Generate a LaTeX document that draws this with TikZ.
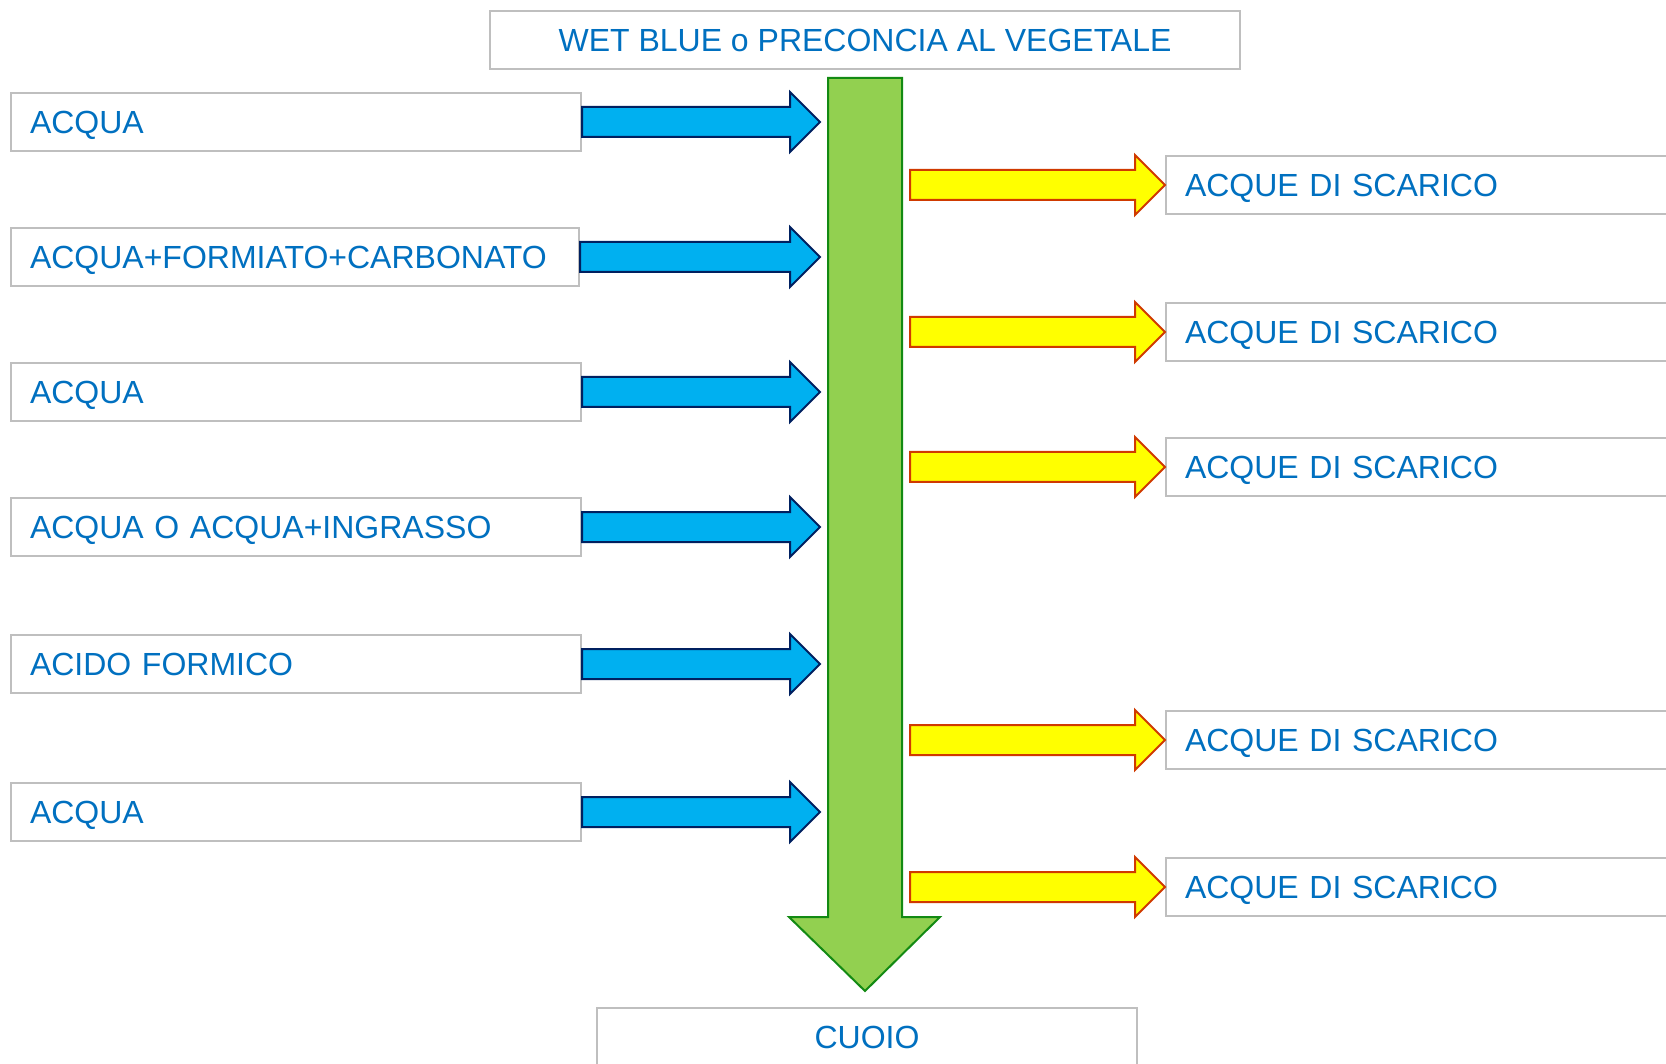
\documentclass[tikz,border=0pt]{standalone}
\usepackage{fontspec}
\setmainfont{Liberation Sans}
\usetikzlibrary{calc}
\definecolor{txtblue}{HTML}{0070C0}
\definecolor{boxgray}{HTML}{BFBFBF}
\definecolor{arrblue}{HTML}{00B0F0}
\definecolor{arrnavy}{HTML}{002060}
\definecolor{arrgreen}{HTML}{92D050}
\definecolor{arrdkgreen}{HTML}{138A13}
\definecolor{arryellow}{HTML}{FFFF00}
\definecolor{arrred}{HTML}{D03A00}
\newcommand{\blockarrow}[3]{%
  \draw[#1] let \p1=(#2), \p2=(#3) in
    (\x1,\y1+15pt) -- (\x2-30pt,\y1+15pt) -- (\x2-30pt,\y1+30pt) -- (\x2,\y1)
    -- (\x2-30pt,\y1-30pt) -- (\x2-30pt,\y1-15pt) -- (\x1,\y1-15pt) -- cycle;}
\begin{document}
\begin{tikzpicture}[x=1pt,y=-1pt,
  box/.style={draw=boxgray, line width=2pt, fill=white, minimum height=58pt,
    inner xsep=19pt, inner ysep=0pt, text=txtblue, text height=23pt, text depth=0pt,
    font=\fontsize{32}{36}\selectfont, align=left},
  lbox/.style={box, anchor=west, text width=532pt},
  rbox/.style={box, anchor=west, text width=472pt},
  cbox/.style={box, align=center},
  bluearr/.style={fill=arrblue, draw=arrnavy, line width=2pt, line join=miter},
  yelarr/.style={fill=arryellow, draw=arrred, line width=2pt, line join=miter},
  greenarr/.style={fill=arrgreen, draw=arrdkgreen, line width=2pt, line join=miter}]
\useasboundingbox (0,0) rectangle (1666,1064);
% boxes
\node[cbox, minimum width=750pt] (top) at (865,40) {WET BLUE o PRECONCIA AL VEGETALE};
\node[cbox, minimum width=540pt] (cuoio) at (867,1037) {CUOIO};
\node[lbox] (l1) at (10,122) {ACQUA};
\node[lbox, text width=530pt] (l2) at (10,257) {ACQUA+FORMIATO+CARBONATO};
\node[lbox] (l3) at (10,392) {ACQUA};
\node[lbox] (l4) at (10,527) {ACQUA O ACQUA+INGRASSO};
\node[lbox] (l5) at (10,664) {ACIDO FORMICO};
\node[lbox] (l6) at (10,812) {ACQUA};
\node[rbox] (r1) at (1165,185) {ACQUE DI SCARICO};
\node[rbox] (r2) at (1165,332) {ACQUE DI SCARICO};
\node[rbox] (r3) at (1165,467) {ACQUE DI SCARICO};
\node[rbox] (r4) at (1165,740) {ACQUE DI SCARICO};
\node[rbox] (r5) at (1165,887) {ACQUE DI SCARICO};
% main green arrow
\coordinate (gtop) at (865,78);
\coordinate (gtip) at (865,991);
\draw[greenarr] (828,78) -- (902,78) -- (902,917) -- (940,917) -- (gtip)
  -- (789,917) -- (828,917) -- cycle;
\coordinate (gin) at (820,0);
\coordinate (gout) at (910,0);
% input arrows
\foreach \nm in {l1,l2,l3,l4,l5,l6}{
  \coordinate (\nm-s) at (\nm.east);
  \coordinate (\nm-e) at (\nm.east -| gin);
  \blockarrow{bluearr}{\nm-s}{\nm-e}
}
% output arrows
\foreach \nm in {r1,r2,r3,r4,r5}{
  \coordinate (\nm-s) at (\nm.west -| gout);
  \coordinate (\nm-e) at (\nm.west);
  \blockarrow{yelarr}{\nm-s}{\nm-e}
}
\end{tikzpicture}
\end{document}
